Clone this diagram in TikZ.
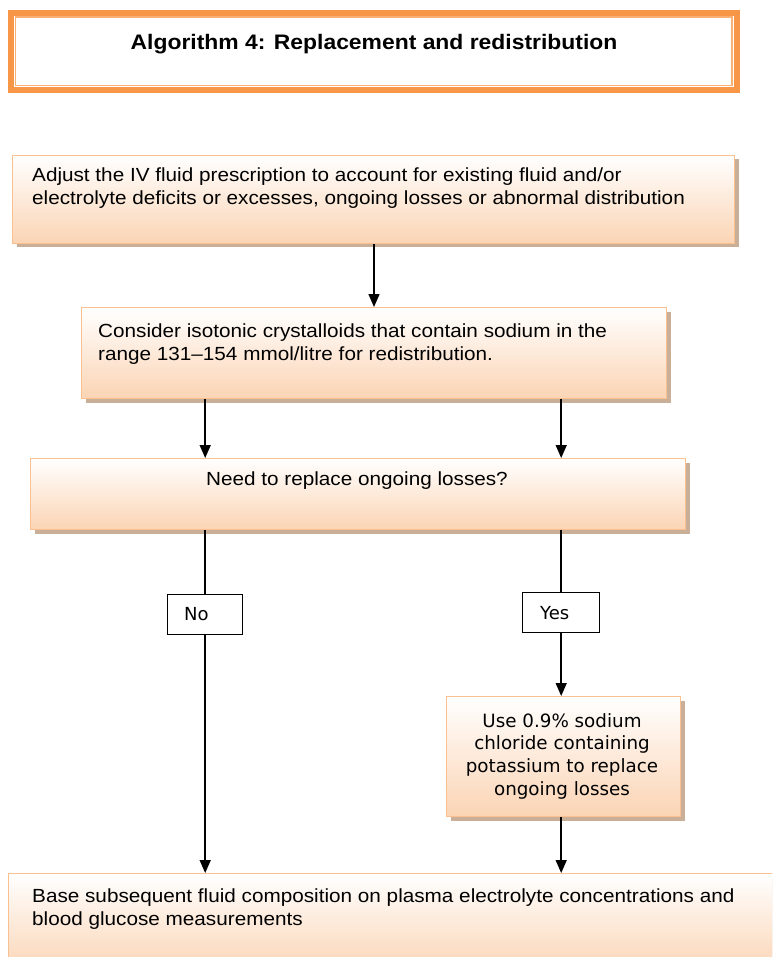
\documentclass[tikz,border=0pt]{standalone}
\usepackage{fontspec}
\setmainfont{Liberation Sans}[FakeStretch=1.09]
\newfontfamily\dvs{DejaVu Sans}
\usetikzlibrary{arrows.meta,shadows}
\definecolor{accent}{HTML}{F79646}
\definecolor{peach}{HTML}{FBD4B4}
\definecolor{edgec}{HTML}{FAC08F}
\definecolor{shad}{HTML}{C9AE98}
\newcommand{\topstrut}{\rule{0pt}{15pt}}
\begin{document}
\begin{tikzpicture}[x=1pt,y=-1pt,
  box/.style={draw=edgec, line width=1pt, top color=white, bottom color=peach,
    anchor=north west, inner sep=0pt,
    drop shadow={shadow xshift=4pt, shadow yshift=-4pt, fill=shad, opacity=1}},
  txt/.style={inner sep=0pt, align=left, anchor=north west, font=\fontsize{19}{23.5}\selectfont},
  lab/.style={draw=black, line width=1.4pt, fill=white, anchor=north west, inner sep=0pt},
  labtxt/.style={inner sep=0pt, anchor=base west, font=\dvs\fontsize{18}{21}\selectfont},
  arr/.style={draw=black, line width=1.5pt, -{Triangle[length=13pt,width=11pt]}},
  ln/.style={draw=black, line width=1.5pt}]
\useasboundingbox (0,0) rectangle (772,957);
\clip (0,0) rectangle (772,957);
\fill[white] (0,0) rectangle (772,957);

% title frame
\node[draw=accent, line width=6pt, minimum width=726pt, minimum height=77pt, inner sep=0pt] (title) at (374,51.5) {};
\draw[accent!75, line width=1.5pt] ([shift={(7.5pt,-7pt)}]title.north west) rectangle ([shift={(-8pt,7.5pt)}]title.south east);
\node[inner sep=0pt, anchor=base, font=\bfseries\fontsize{21}{24}\selectfont] (tt) at (374,50) {Algorithm 4: Replacement and redistribution};

% boxes
\node[box, minimum width=722pt, minimum height=88pt] (b1) at (12,155) {};
\node[txt] (t1) at (32,166) {\topstrut Adjust the IV fluid prescription to account for existing fluid and/or\\electrolyte deficits or excesses, ongoing losses or abnormal distribution};

\node[box, minimum width=585pt, minimum height=91pt] (b2) at (81,307) {};
\node[txt] (t2) at (98,322) {\topstrut Consider isotonic crystalloids that contain sodium in the\\range 131--154 mmol/litre for redistribution.};

\node[box, minimum width=655pt, minimum height=71pt] (b3) at (30,458) {};
\node[txt, anchor=base] (t3) at (357,485) {Need to replace ongoing losses?};

\node[lab, minimum width=75pt, minimum height=40pt] (no) at (167,594) {};
\node[labtxt] (tno) at (184,620) {No};
\node[lab, minimum width=77pt, minimum height=40pt] (yes) at (522,592) {};
\node[labtxt] (tyes) at (540,619) {Yes};

\node[box, minimum width=234pt, minimum height=120pt] (b4) at (446,696) {};
\node[inner sep=0pt, anchor=north, align=center, font=\dvs\fontsize{18.3}{22.7}\selectfont] (t4) at (562,712) {\topstrut Use 0.9\% sodium\\chloride containing\\potassium to replace\\ongoing losses};

\node[box, minimum width=800pt, minimum height=100pt] (b5) at (8,873) {};
\node[txt] (t5) at (32,887) {\topstrut Base subsequent fluid composition on plasma electrolyte concentrations and\\blood glucose measurements};

% connectors
\draw[arr] (b1.south -| b2.north) -- (b2.north);
\draw[arr] (b2.south -| no.north) -- (b3.north -| no.north);
\draw[arr] (b2.south -| yes.north) -- (b3.north -| yes.north);
\draw[ln] (b3.south -| no.north) -- (no.north);
\draw[ln] (b3.south -| yes.north) -- (yes.north);
\draw[arr] (no.south) -- (b5.north -| no.south);
\draw[arr] (yes.south) -- (b4.north -| yes.south);
\draw[arr] (b4.south -| yes.south) -- (b5.north -| yes.south);
\end{tikzpicture}
\end{document}
